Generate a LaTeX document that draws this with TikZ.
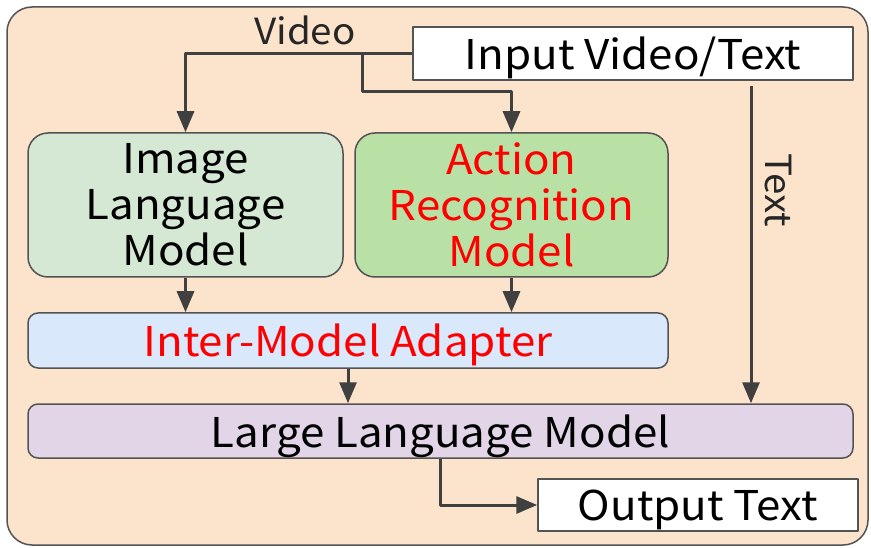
\documentclass[tikz,border=0pt]{standalone}
\usepackage{fontspec}
\setmainfont{Noto Sans CJK JP}[FakeStretch=1.07]
\usetikzlibrary{arrows.meta}
\definecolor{peach}{HTML}{FCE4CC}
\definecolor{ilmgreen}{HTML}{D5E8D4}
\definecolor{armgreen}{HTML}{B9E0A5}
\definecolor{imablue}{HTML}{DAE8FC}
\definecolor{llmpurple}{HTML}{E1D5E7}
\definecolor{wire}{HTML}{404040}
\begin{document}
\begin{tikzpicture}[x=1pt,y=-1pt,line join=round,
		font=\fontsize{41}{46}\selectfont,
		arr/.style={draw=wire,line width=3pt,-{Triangle[length=21pt,width=17pt]}},
		box/.style={draw=wire!90,line width=1.5pt,align=center,inner sep=0pt},
		oneline/.style={text depth=0pt},
		lbl/.style={font=\fontsize{36}{40}\selectfont,text=black!85}]
		\useasboundingbox (0,0) rectangle (871,548);
		\draw[draw=wire!90,line width=1.5pt,fill=peach,rounded corners=25pt] (7,7) rectangle (868,545);
		% boxes
		\node[box,oneline,fill=white,minimum width=440pt,minimum height=53pt] (input) at (633,53.5) {Input Video/Text};
		\node[box,fill=ilmgreen,rounded corners=20pt,minimum width=315pt,minimum height=144pt] (ilm) at (185.5,205) {Image\\Language\\Model};
		\node[box,fill=armgreen,rounded corners=20pt,minimum width=313pt,minimum height=144pt,text=red] (arm) at (511.5,205) {Action\\Recognition\\Model};
		\node[box,oneline,fill=imablue,rounded corners=10pt,minimum width=640pt,minimum height=55pt,text=red] (ima) at (348,340.5) {Inter-Model Adapter};
		\node[box,oneline,fill=llmpurple,rounded corners=10pt,minimum width=825pt,minimum height=54pt] (llm) at (440.5,431) {Large Language Model};
		\node[box,oneline,fill=white,minimum width=320pt,minimum height=52pt] (out) at (698,505) {Output Text};
		% connectors
		\coordinate (split) at (362,53.5);
		\coordinate (ttop) at (751,86);
		\draw[arr] (input.west) -| (ilm.north);
		\draw[arr] (split) -- ++(0,38.5) -| (arm.north);
		\draw[arr] (ttop) -- (ttop |- llm.north);
		\draw[arr] (ilm.south) -- (ilm.south |- ima.north);
		\draw[arr] (arm.south) -- (arm.south |- ima.north);
		\draw[arr] (ima.south) -- (ima.south |- llm.north);
		\draw[arr] (llm.south) |- (out.west);
		\node[lbl] (video) at (305,30) {Video};
		\node[lbl,rotate=-90] (text) at (778,190) {Text};
\end{tikzpicture}
\end{document}
